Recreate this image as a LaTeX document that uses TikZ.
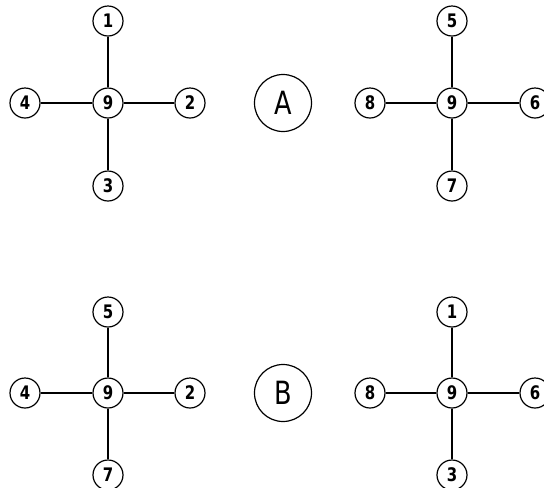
\documentclass[tikz,border=0pt]{standalone}
\usepackage{fontspec}
\setmainfont{DejaVu Sans}
\newfontfamily\pinfont[FakeStretch=0.8]{DejaVu Sans}
\tikzset{
    pin/.style={draw,circle,line width=0.9pt,minimum size=22.5pt,inner sep=0pt,
        font=\pinfont\bfseries\fontsize{14}{14}\selectfont},
    case/.style={draw,circle,line width=0.9pt,minimum size=42.75pt,inner sep=0pt,
        font=\pinfont\fontsize{24}{24}\selectfont},
    wire/.style={line width=0.9pt}
}
\begin{document}
\begin{tikzpicture}[x=0.75pt,y=-0.75pt]
    \useasboundingbox (0,0) rectangle (544,487);

    % case A, left
    \node[pin] (a-left-9) at (108,103) {9};
    \node[pin] (a-left-1) at (108,21) {1};
    \node[pin] (a-left-2) at (190,103) {2};
    \node[pin] (a-left-3) at (108,186) {3};
    \node[pin] (a-left-4) at (25,103) {4};
    \draw[wire] (a-left-9) -- (a-left-1);
    \draw[wire] (a-left-9) -- (a-left-2);
    \draw[wire] (a-left-9) -- (a-left-3);
    \draw[wire] (a-left-9) -- (a-left-4);

    \node[case] (case-a) at (283,103) {A};

    % case A, right
    \node[pin] (a-right-9) at (452,103) {9};
    \node[pin] (a-right-5) at (452,21) {5};
    \node[pin] (a-right-6) at (535,103) {6};
    \node[pin] (a-right-7) at (452,186) {7};
    \node[pin] (a-right-8) at (370,103) {8};
    \draw[wire] (a-right-9) -- (a-right-5);
    \draw[wire] (a-right-9) -- (a-right-6);
    \draw[wire] (a-right-9) -- (a-right-7);
    \draw[wire] (a-right-9) -- (a-right-8);

    % case B, left
    \node[pin] (b-left-9) at (108,393) {9};
    \node[pin] (b-left-5) at (108,312) {5};
    \node[pin] (b-left-2) at (190,393) {2};
    \node[pin] (b-left-7) at (108,475) {7};
    \node[pin] (b-left-4) at (25,393) {4};
    \draw[wire] (b-left-9) -- (b-left-5);
    \draw[wire] (b-left-9) -- (b-left-2);
    \draw[wire] (b-left-9) -- (b-left-7);
    \draw[wire] (b-left-9) -- (b-left-4);

    \node[case] (case-b) at (283,393) {B};

    % case B, right
    \node[pin] (b-right-9) at (452,393) {9};
    \node[pin] (b-right-1) at (452,312) {1};
    \node[pin] (b-right-6) at (535,393) {6};
    \node[pin] (b-right-3) at (452,475) {3};
    \node[pin] (b-right-8) at (370,393) {8};
    \draw[wire] (b-right-9) -- (b-right-1);
    \draw[wire] (b-right-9) -- (b-right-6);
    \draw[wire] (b-right-9) -- (b-right-3);
    \draw[wire] (b-right-9) -- (b-right-8);
\end{tikzpicture}
\end{document}
